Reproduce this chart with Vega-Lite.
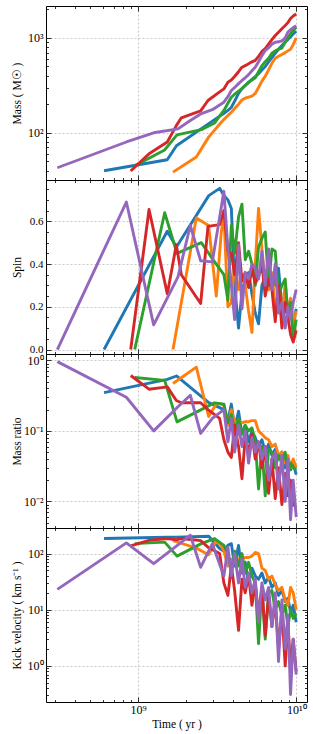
{
  "$schema": "https://vega.github.io/schema/vega-lite/v6.json",
  "padding": {"left": 10, "top": 5, "right": 7, "bottom": 2},
  "config": {
    "font": "Liberation Serif",
    "view": {"stroke": "#000", "strokeWidth": 1},
    "axis": {"domain": false, "labelFont": "Liberation Serif", "titleFont": "Liberation Serif", "labelFontSize": 12, "titleFontSize": 11.5, "titleFontWeight": "normal", "tickColor": "#000", "labelColor": "#000", "titleColor": "#000", "gridColor": "#b0b0b0", "gridDash": [2, 2], "gridWidth": 0.7, "tickWidth": 0.8}
  },
  "data": {"values": [
    {"series":"run1","time":6.1e8,"mass":39.8,"spin":0,"ratio":0.349,"kick":185},
    {"series":"run1","time":1.53e9,"mass":52,"spin":0.553,"ratio":0.538,"kick":195},
    {"series":"run1","time":1.75e9,"mass":73,"spin":0.48,"ratio":0.6,"kick":195},
    {"series":"run1","time":2.8e9,"mass":125,"spin":0.72,"ratio":0.252,"kick":203},
    {"series":"run1","time":3.28e9,"mass":150,"spin":0.754,"ratio":0.214,"kick":123},
    {"series":"run1","time":3.49e9,"mass":160,"spin":0.72,"ratio":0.2,"kick":110},
    {"series":"run1","time":3.7e9,"mass":172,"spin":0.7,"ratio":0.14,"kick":140},
    {"series":"run1","time":3.89e9,"mass":186,"spin":0.66,"ratio":0.24,"kick":150},
    {"series":"run1","time":4.08e9,"mass":215,"spin":0.3,"ratio":0.11,"kick":60},
    {"series":"run1","time":4.32e9,"mass":260,"spin":0.1,"ratio":0.19,"kick":140},
    {"series":"run1","time":4.54e9,"mass":292,"spin":0.27,"ratio":0.09,"kick":45},
    {"series":"run1","time":4.76e9,"mass":315,"spin":0.33,"ratio":0.12,"kick":70},
    {"series":"run1","time":5.0e9,"mass":340,"spin":0.36,"ratio":0.07,"kick":30},
    {"series":"run1","time":5.25e9,"mass":365,"spin":0.26,"ratio":0.1,"kick":55},
    {"series":"run1","time":5.51e9,"mass":390,"spin":0.17,"ratio":0.08,"kick":40},
    {"series":"run1","time":5.78e9,"mass":420,"spin":0.12,"ratio":0.06,"kick":35},
    {"series":"run1","time":6.07e9,"mass":460,"spin":0.3,"ratio":0.075,"kick":45},
    {"series":"run1","time":6.37e9,"mass":500,"spin":0.34,"ratio":0.05,"kick":30},
    {"series":"run1","time":6.69e9,"mass":560,"spin":0.28,"ratio":0.065,"kick":38},
    {"series":"run1","time":7.02e9,"mass":620,"spin":0.35,"ratio":0.045,"kick":25},
    {"series":"run1","time":7.37e9,"mass":690,"spin":0.3,"ratio":0.055,"kick":30},
    {"series":"run1","time":7.73e9,"mass":760,"spin":0.38,"ratio":0.04,"kick":18},
    {"series":"run1","time":8.12e9,"mass":830,"spin":0.2,"ratio":0.05,"kick":22},
    {"series":"run1","time":8.52e9,"mass":905,"spin":0.26,"ratio":0.03,"kick":14},
    {"series":"run1","time":8.86e9,"mass":960,"spin":0.15,"ratio":0.04,"kick":16},
    {"series":"run1","time":9.21e9,"mass":1030,"spin":0.22,"ratio":0.028,"kick":9},
    {"series":"run1","time":9.57e9,"mass":1100,"spin":0.12,"ratio":0.035,"kick":12},
    {"series":"run1","time":1.0e10,"mass":1175,"spin":0.19,"ratio":0.024,"kick":6},

    {"series":"run2","time":1.664e9,"mass":38.5,"spin":0,"ratio":0.47,"kick":170},
    {"series":"run2","time":2.336e9,"mass":55.5,"spin":0.615,"ratio":0.8,"kick":125},
    {"series":"run2","time":2.795e9,"mass":90,"spin":0.58,"ratio":0.16,"kick":95},
    {"series":"run2","time":3.124e9,"mass":112,"spin":0.25,"ratio":0.24,"kick":170},
    {"series":"run2","time":3.36e9,"mass":129,"spin":0.55,"ratio":0.24,"kick":140},
    {"series":"run2","time":3.49e9,"mass":138,"spin":0.63,"ratio":0.23,"kick":110},
    {"series":"run2","time":3.7e9,"mass":152,"spin":0.2,"ratio":0.12,"kick":60},
    {"series":"run2","time":3.89e9,"mass":165,"spin":0.22,"ratio":0.2,"kick":80},
    {"series":"run2","time":4.08e9,"mass":180,"spin":0.4,"ratio":0.13,"kick":75},
    {"series":"run2","time":4.32e9,"mass":200,"spin":0.28,"ratio":0.14,"kick":80},
    {"series":"run2","time":4.54e9,"mass":222,"spin":0.35,"ratio":0.13,"kick":80},
    {"series":"run2","time":4.76e9,"mass":232,"spin":0.3,"ratio":0.135,"kick":85},
    {"series":"run2","time":5.0e9,"mass":238,"spin":0.18,"ratio":0.135,"kick":85},
    {"series":"run2","time":5.25e9,"mass":244,"spin":0.08,"ratio":0.14,"kick":90},
    {"series":"run2","time":5.51e9,"mass":260,"spin":0.4,"ratio":0.14,"kick":105},
    {"series":"run2","time":5.78e9,"mass":300,"spin":0.66,"ratio":0.1,"kick":100},
    {"series":"run2","time":6.07e9,"mass":350,"spin":0.47,"ratio":0.09,"kick":55},
    {"series":"run2","time":6.37e9,"mass":395,"spin":0.3,"ratio":0.08,"kick":50},
    {"series":"run2","time":6.69e9,"mass":460,"spin":0.28,"ratio":0.075,"kick":35},
    {"series":"run2","time":7.02e9,"mass":540,"spin":0.36,"ratio":0.06,"kick":40},
    {"series":"run2","time":7.37e9,"mass":610,"spin":0.2,"ratio":0.065,"kick":28},
    {"series":"run2","time":7.73e9,"mass":640,"spin":0.27,"ratio":0.045,"kick":22},
    {"series":"run2","time":8.12e9,"mass":670,"spin":0.15,"ratio":0.05,"kick":25},
    {"series":"run2","time":8.52e9,"mass":700,"spin":0.31,"ratio":0.035,"kick":15},
    {"series":"run2","time":8.86e9,"mass":730,"spin":0.17,"ratio":0.045,"kick":12},
    {"series":"run2","time":9.21e9,"mass":760,"spin":0.24,"ratio":0.03,"kick":25},
    {"series":"run2","time":9.57e9,"mass":850,"spin":0.12,"ratio":0.04,"kick":20},
    {"series":"run2","time":1.0e10,"mass":1000,"spin":0.18,"ratio":0.03,"kick":10},

    {"series":"run3","time":9.53e8,"mass":45,"spin":0,"ratio":0.57,"kick":150},
    {"series":"run3","time":1.474e9,"mass":66,"spin":0.64,"ratio":0.52,"kick":160},
    {"series":"run3","time":1.764e9,"mass":95,"spin":0.45,"ratio":0.134,"kick":90},
    {"series":"run3","time":2.512e9,"mass":108,"spin":0.5,"ratio":0.2,"kick":150},
    {"series":"run3","time":3.05e9,"mass":127,"spin":0.41,"ratio":0.25,"kick":185},
    {"series":"run3","time":3.49e9,"mass":172,"spin":0.35,"ratio":0.24,"kick":140},
    {"series":"run3","time":3.7e9,"mass":205,"spin":0.23,"ratio":0.13,"kick":100},
    {"series":"run3","time":3.89e9,"mass":237,"spin":0.58,"ratio":0.17,"kick":50},
    {"series":"run3","time":4.08e9,"mass":255,"spin":0.45,"ratio":0.1,"kick":110},
    {"series":"run3","time":4.32e9,"mass":275,"spin":0.62,"ratio":0.15,"kick":60},
    {"series":"run3","time":4.54e9,"mass":292,"spin":0.68,"ratio":0.09,"kick":100},
    {"series":"run3","time":4.76e9,"mass":315,"spin":0.42,"ratio":0.12,"kick":45},
    {"series":"run3","time":5.0e9,"mass":340,"spin":0.46,"ratio":0.1,"kick":70},
    {"series":"run3","time":5.25e9,"mass":360,"spin":0.4,"ratio":0.11,"kick":40},
    {"series":"run3","time":5.51e9,"mass":380,"spin":0.3,"ratio":0.07,"kick":30},
    {"series":"run3","time":5.78e9,"mass":440,"spin":0.48,"ratio":0.015,"kick":2.5},
    {"series":"run3","time":6.07e9,"mass":510,"spin":0.52,"ratio":0.06,"kick":25},
    {"series":"run3","time":6.37e9,"mass":560,"spin":0.55,"ratio":0.012,"kick":3.0},
    {"series":"run3","time":6.69e9,"mass":610,"spin":0.3,"ratio":0.055,"kick":20},
    {"series":"run3","time":7.02e9,"mass":690,"spin":0.47,"ratio":0.05,"kick":22},
    {"series":"run3","time":7.37e9,"mass":730,"spin":0.46,"ratio":0.03,"kick":10},
    {"series":"run3","time":7.73e9,"mass":760,"spin":0.25,"ratio":0.045,"kick":14},
    {"series":"run3","time":8.12e9,"mass":780,"spin":0.3,"ratio":0.035,"kick":8},
    {"series":"run3","time":8.52e9,"mass":900,"spin":0.33,"ratio":0.05,"kick":12},
    {"series":"run3","time":8.86e9,"mass":1010,"spin":0.16,"ratio":0.025,"kick":5},
    {"series":"run3","time":9.21e9,"mass":1100,"spin":0.22,"ratio":0.035,"kick":10},
    {"series":"run3","time":9.57e9,"mass":1200,"spin":0.05,"ratio":0.03,"kick":7},
    {"series":"run3","time":1.0e10,"mass":1294,"spin":0.14,"ratio":0.028,"kick":8.6},

    {"series":"run4","time":8.99e8,"mass":39.5,"spin":0,"ratio":0.61,"kick":137},
    {"series":"run4","time":1.174e9,"mass":60,"spin":0.655,"ratio":0.39,"kick":172},
    {"series":"run4","time":1.532e9,"mass":80,"spin":0.26,"ratio":0.42,"kick":185},
    {"series":"run4","time":1.746e9,"mass":119,"spin":0.49,"ratio":0.27,"kick":175},
    {"series":"run4","time":1.878e9,"mass":144,"spin":0.35,"ratio":0.25,"kick":185},
    {"series":"run4","time":2.488e9,"mass":170,"spin":0.215,"ratio":0.25,"kick":170},
    {"series":"run4","time":2.768e9,"mass":219,"spin":0.576,"ratio":0.2,"kick":130},
    {"series":"run4","time":3.28e9,"mass":270,"spin":0.584,"ratio":0.15,"kick":100},
    {"series":"run4","time":3.49e9,"mass":290,"spin":0.65,"ratio":0.075,"kick":30},
    {"series":"run4","time":3.7e9,"mass":341,"spin":0.46,"ratio":0.05,"kick":18},
    {"series":"run4","time":3.89e9,"mass":360,"spin":0.45,"ratio":0.042,"kick":60},
    {"series":"run4","time":4.08e9,"mass":392,"spin":0.35,"ratio":0.12,"kick":22},
    {"series":"run4","time":4.32e9,"mass":440,"spin":0.5,"ratio":0.06,"kick":4.3},
    {"series":"run4","time":4.54e9,"mass":491,"spin":0.32,"ratio":0.021,"kick":35},
    {"series":"run4","time":4.76e9,"mass":510,"spin":0.36,"ratio":0.08,"kick":20},
    {"series":"run4","time":5.0e9,"mass":535,"spin":0.29,"ratio":0.05,"kick":40},
    {"series":"run4","time":5.25e9,"mass":560,"spin":0.38,"ratio":0.09,"kick":12},
    {"series":"run4","time":5.51e9,"mass":580,"spin":0.31,"ratio":0.04,"kick":30},
    {"series":"run4","time":5.78e9,"mass":640,"spin":0.34,"ratio":0.07,"kick":8},
    {"series":"run4","time":6.07e9,"mass":720,"spin":0.4,"ratio":0.03,"kick":25},
    {"series":"run4","time":6.37e9,"mass":770,"spin":0.25,"ratio":0.06,"kick":3.5},
    {"series":"run4","time":6.69e9,"mass":860,"spin":0.33,"ratio":0.013,"kick":18},
    {"series":"run4","time":7.02e9,"mass":960,"spin":0.28,"ratio":0.04,"kick":5},
    {"series":"run4","time":7.37e9,"mass":1060,"spin":0.13,"ratio":0.011,"kick":14},
    {"series":"run4","time":7.73e9,"mass":1150,"spin":0.3,"ratio":0.03,"kick":2},
    {"series":"run4","time":8.12e9,"mass":1250,"spin":0.1,"ratio":0.009,"kick":10},
    {"series":"run4","time":8.52e9,"mass":1350,"spin":0.22,"ratio":0.025,"kick":1.0},
    {"series":"run4","time":8.86e9,"mass":1450,"spin":0.15,"ratio":0.012,"kick":6},
    {"series":"run4","time":9.21e9,"mass":1600,"spin":0.07,"ratio":0.02,"kick":0.9},
    {"series":"run4","time":9.57e9,"mass":1700,"spin":0.035,"ratio":0.009,"kick":3},
    {"series":"run4","time":1.0e10,"mass":1790,"spin":0.09,"ratio":0.0083,"kick":0.8},

    {"series":"run5","time":3.09e8,"mass":42.8,"spin":0,"ratio":0.96,"kick":23},
    {"series":"run5","time":8.44e8,"mass":80,"spin":0.69,"ratio":0.3,"kick":155},
    {"series":"run5","time":1.256e9,"mass":100,"spin":0.115,"ratio":0.1,"kick":66},
    {"series":"run5","time":1.789e9,"mass":110,"spin":0.34,"ratio":0.22,"kick":143},
    {"series":"run5","time":2.141e9,"mass":135,"spin":0.58,"ratio":0.32,"kick":212},
    {"series":"run5","time":2.488e9,"mass":158,"spin":0.415,"ratio":0.092,"kick":57},
    {"series":"run5","time":2.949e9,"mass":175,"spin":0.41,"ratio":0.15,"kick":150},
    {"series":"run5","time":3.49e9,"mass":210,"spin":0.74,"ratio":0.2,"kick":40},
    {"series":"run5","time":3.7e9,"mass":240,"spin":0.47,"ratio":0.07,"kick":130},
    {"series":"run5","time":3.89e9,"mass":279,"spin":0.3,"ratio":0.15,"kick":40},
    {"series":"run5","time":4.08e9,"mass":300,"spin":0.14,"ratio":0.05,"kick":100},
    {"series":"run5","time":4.32e9,"mass":330,"spin":0.49,"ratio":0.12,"kick":30},
    {"series":"run5","time":4.54e9,"mass":356,"spin":0.19,"ratio":0.06,"kick":80},
    {"series":"run5","time":4.76e9,"mass":380,"spin":0.36,"ratio":0.1,"kick":25},
    {"series":"run5","time":5.0e9,"mass":410,"spin":0.33,"ratio":0.035,"kick":45},
    {"series":"run5","time":5.25e9,"mass":450,"spin":0.4,"ratio":0.08,"kick":20},
    {"series":"run5","time":5.51e9,"mass":491,"spin":0.38,"ratio":0.05,"kick":35},
    {"series":"run5","time":5.78e9,"mass":560,"spin":0.33,"ratio":0.07,"kick":6},
    {"series":"run5","time":6.07e9,"mass":650,"spin":0.46,"ratio":0.04,"kick":30},
    {"series":"run5","time":6.37e9,"mass":736,"spin":0.3,"ratio":0.06,"kick":15},
    {"series":"run5","time":6.69e9,"mass":790,"spin":0.47,"ratio":0.02,"kick":25},
    {"series":"run5","time":7.02e9,"mass":860,"spin":0.28,"ratio":0.04,"kick":5},
    {"series":"run5","time":7.37e9,"mass":900,"spin":0.4,"ratio":0.05,"kick":20},
    {"series":"run5","time":7.73e9,"mass":910,"spin":0.17,"ratio":0.015,"kick":1.2},
    {"series":"run5","time":8.12e9,"mass":930,"spin":0.22,"ratio":0.045,"kick":15},
    {"series":"run5","time":8.52e9,"mass":1000,"spin":0.1,"ratio":0.01,"kick":2},
    {"series":"run5","time":8.86e9,"mass":1150,"spin":0.2,"ratio":0.04,"kick":8},
    {"series":"run5","time":9.21e9,"mass":1220,"spin":0.14,"ratio":0.0055,"kick":0.31},
    {"series":"run5","time":9.57e9,"mass":1280,"spin":0.22,"ratio":0.02,"kick":3},
    {"series":"run5","time":1.0e10,"mass":1350,"spin":0.28,"ratio":0.006,"kick":0.7}
  ]},
  "vconcat": [
    {
      "width": 261, "height": 174,
      "layer": [
        {"mark": {"type": "line", "strokeWidth": 2.9, "clip": true, "strokeJoin": "round"},
         "encoding": {
           "x": {"field": "time", "type": "quantitative", "scale": {"type": "log", "domain": [2.62e8, 1.17e10], "nice": false},
                 "axis": {"orient": "bottom", "labels": false, "title": null, "values": [3e8,4e8,5e8,6e8,7e8,8e8,9e8,1e9,2e9,3e9,4e9,5e9,6e9,7e9,8e9,9e9,1e10], "grid": true, "gridOpacity": {"condition": {"test": "abs(log(datum.value)/LN10 - round(log(datum.value)/LN10)) < 0.001", "value": 1}, "value": 0}, "tickSize": {"condition": {"test": "abs(log(datum.value)/LN10 - round(log(datum.value)/LN10)) < 0.001", "value": -5}, "value": -2.5}, "minExtent": 0, "maxExtent": 0}},
           "y": {"field": "mass", "type": "quantitative", "scale": {"type": "log", "domain": [31.8, 2170], "nice": false},
                 "axis": {"orient": "left", "title": "Mass ( M☉ )", "values": [40,50,60,70,80,90,100,200,300,400,500,600,700,800,900,1000,2000], "labelExpr": "datum.value == 100 ? '10²' : datum.value == 1000 ? '10³' : ''", "grid": true, "gridOpacity": {"condition": {"test": "abs(log(datum.value)/LN10 - round(log(datum.value)/LN10)) < 0.001", "value": 1}, "value": 0}, "tickSize": {"condition": {"test": "abs(log(datum.value)/LN10 - round(log(datum.value)/LN10)) < 0.001", "value": -5}, "value": -2.5}, "labelPadding": 8, "minExtent": 22, "maxExtent": 22, "titlePadding": 2}},
           "color": {"field": "series", "type": "nominal", "scale": {"domain": ["run1","run2","run3","run4","run5"], "range": ["#1f77b4","#ff7f0e","#2ca02c","#d62728","#9467bd"]}, "legend": null}
         }},
        {"mark": {"type": "point", "opacity": 0},
         "encoding": {
           "x": {"field": "time", "type": "quantitative", "scale": {"type": "log", "domain": [2.62e8, 1.17e10], "nice": false},
                 "axis": {"orient": "top", "labels": false, "title": null, "grid": false, "values": [3e8,4e8,5e8,6e8,7e8,8e8,9e8,1e9,2e9,3e9,4e9,5e9,6e9,7e9,8e9,9e9,1e10], "tickSize": {"condition": {"test": "abs(log(datum.value)/LN10 - round(log(datum.value)/LN10)) < 0.001", "value": -5}, "value": -2.5}, "minExtent": 0, "maxExtent": 0}},
           "y": {"field": "mass", "type": "quantitative", "scale": {"type": "log", "domain": [31.8, 2170], "nice": false},
                 "axis": {"orient": "right", "labels": false, "title": null, "grid": false, "values": [40,50,60,70,80,90,100,200,300,400,500,600,700,800,900,1000,2000], "tickSize": {"condition": {"test": "abs(log(datum.value)/LN10 - round(log(datum.value)/LN10)) < 0.001", "value": -5}, "value": -2.5}, "minExtent": 0, "maxExtent": 0}}
         }}
      ],
      "resolve": {"axis": {"x": "independent", "y": "independent"}}
    },
    {
      "width": 261, "height": 174,
      "layer": [
        {"mark": {"type": "line", "strokeWidth": 2.9, "clip": true, "strokeJoin": "round"},
         "encoding": {
           "x": {"field": "time", "type": "quantitative", "scale": {"type": "log", "domain": [2.62e8, 1.17e10], "nice": false},
                 "axis": {"orient": "bottom", "labels": false, "title": null, "values": [3e8,4e8,5e8,6e8,7e8,8e8,9e8,1e9,2e9,3e9,4e9,5e9,6e9,7e9,8e9,9e9,1e10], "grid": true, "gridOpacity": {"condition": {"test": "abs(log(datum.value)/LN10 - round(log(datum.value)/LN10)) < 0.001", "value": 1}, "value": 0}, "tickSize": {"condition": {"test": "abs(log(datum.value)/LN10 - round(log(datum.value)/LN10)) < 0.001", "value": -5}, "value": -2.5}, "minExtent": 0, "maxExtent": 0}},
           "y": {"field": "spin", "type": "quantitative", "scale": {"domain": [-0.021, 0.793], "nice": false, "zero": false},
                 "axis": {"orient": "left", "title": "Spin", "values": [0,0.05,0.1,0.15,0.2,0.25,0.3,0.35,0.4,0.45,0.5,0.55,0.6,0.65,0.7,0.75], "labelExpr": "abs(datum.value*5 - round(datum.value*5)) < 0.0001 ? format(datum.value, '.1f') : ''", "grid": true, "gridOpacity": {"condition": {"test": "abs(datum.value*5 - round(datum.value*5)) < 0.0001", "value": 1}, "value": 0}, "tickSize": {"condition": {"test": "abs(datum.value*5 - round(datum.value*5)) < 0.0001", "value": -5}, "value": -2.5}, "labelPadding": 8, "labelFontSize": 11, "minExtent": 22, "maxExtent": 22, "titlePadding": 2}},
           "color": {"field": "series", "type": "nominal", "scale": {"domain": ["run1","run2","run3","run4","run5"], "range": ["#1f77b4","#ff7f0e","#2ca02c","#d62728","#9467bd"]}, "legend": null}
         }},
        {"mark": {"type": "point", "opacity": 0},
         "encoding": {
           "x": {"field": "time", "type": "quantitative", "scale": {"type": "log", "domain": [2.62e8, 1.17e10], "nice": false},
                 "axis": {"orient": "top", "labels": false, "title": null, "grid": false, "values": [3e8,4e8,5e8,6e8,7e8,8e8,9e8,1e9,2e9,3e9,4e9,5e9,6e9,7e9,8e9,9e9,1e10], "tickSize": {"condition": {"test": "abs(log(datum.value)/LN10 - round(log(datum.value)/LN10)) < 0.001", "value": -5}, "value": -2.5}, "minExtent": 0, "maxExtent": 0}},
           "y": {"field": "spin", "type": "quantitative", "scale": {"domain": [-0.021, 0.793], "nice": false, "zero": false},
                 "axis": {"orient": "right", "labels": false, "title": null, "grid": false, "values": [0,0.05,0.1,0.15,0.2,0.25,0.3,0.35,0.4,0.45,0.5,0.55,0.6,0.65,0.7,0.75], "tickSize": {"condition": {"test": "abs(datum.value*5 - round(datum.value*5)) < 0.0001", "value": -5}, "value": -2.5}, "minExtent": 0, "maxExtent": 0}}
         }}
      ],
      "resolve": {"axis": {"x": "independent", "y": "independent"}}
    },
    {
      "width": 261, "height": 174,
      "layer": [
        {"mark": {"type": "line", "strokeWidth": 2.9, "clip": true, "strokeJoin": "round"},
         "encoding": {
           "x": {"field": "time", "type": "quantitative", "scale": {"type": "log", "domain": [2.62e8, 1.17e10], "nice": false},
                 "axis": {"orient": "bottom", "labels": false, "title": null, "values": [3e8,4e8,5e8,6e8,7e8,8e8,9e8,1e9,2e9,3e9,4e9,5e9,6e9,7e9,8e9,9e9,1e10], "grid": true, "gridOpacity": {"condition": {"test": "abs(log(datum.value)/LN10 - round(log(datum.value)/LN10)) < 0.001", "value": 1}, "value": 0}, "tickSize": {"condition": {"test": "abs(log(datum.value)/LN10 - round(log(datum.value)/LN10)) < 0.001", "value": -5}, "value": -2.5}, "minExtent": 0, "maxExtent": 0}},
           "y": {"field": "ratio", "type": "quantitative", "scale": {"type": "log", "domain": [0.0042, 1.23], "nice": false},
                 "axis": {"orient": "left", "title": "Mass ratio", "values": [0.005,0.006,0.007,0.008,0.009,0.01,0.02,0.03,0.04,0.05,0.06,0.07,0.08,0.09,0.1,0.2,0.3,0.4,0.5,0.6,0.7,0.8,0.9,1], "labelExpr": "datum.value == 1 ? '10⁰' : datum.value == 0.1 ? '10⁻¹' : datum.value == 0.01 ? '10⁻²' : ''", "grid": true, "gridOpacity": {"condition": {"test": "abs(log(datum.value)/LN10 - round(log(datum.value)/LN10)) < 0.001", "value": 1}, "value": 0}, "tickSize": {"condition": {"test": "abs(log(datum.value)/LN10 - round(log(datum.value)/LN10)) < 0.001", "value": -5}, "value": -2.5}, "labelPadding": 8, "minExtent": 22, "maxExtent": 22, "titlePadding": 2}},
           "color": {"field": "series", "type": "nominal", "scale": {"domain": ["run1","run2","run3","run4","run5"], "range": ["#1f77b4","#ff7f0e","#2ca02c","#d62728","#9467bd"]}, "legend": null}
         }},
        {"mark": {"type": "point", "opacity": 0},
         "encoding": {
           "x": {"field": "time", "type": "quantitative", "scale": {"type": "log", "domain": [2.62e8, 1.17e10], "nice": false},
                 "axis": {"orient": "top", "labels": false, "title": null, "grid": false, "values": [3e8,4e8,5e8,6e8,7e8,8e8,9e8,1e9,2e9,3e9,4e9,5e9,6e9,7e9,8e9,9e9,1e10], "tickSize": {"condition": {"test": "abs(log(datum.value)/LN10 - round(log(datum.value)/LN10)) < 0.001", "value": -5}, "value": -2.5}, "minExtent": 0, "maxExtent": 0}},
           "y": {"field": "ratio", "type": "quantitative", "scale": {"type": "log", "domain": [0.0042, 1.23], "nice": false},
                 "axis": {"orient": "right", "labels": false, "title": null, "grid": false, "values": [0.005,0.006,0.007,0.008,0.009,0.01,0.02,0.03,0.04,0.05,0.06,0.07,0.08,0.09,0.1,0.2,0.3,0.4,0.5,0.6,0.7,0.8,0.9,1], "tickSize": {"condition": {"test": "abs(log(datum.value)/LN10 - round(log(datum.value)/LN10)) < 0.001", "value": -5}, "value": -2.5}, "minExtent": 0, "maxExtent": 0}}
         }}
      ],
      "resolve": {"axis": {"x": "independent", "y": "independent"}}
    },
    {
      "width": 261, "height": 174,
      "layer": [
        {"mark": {"type": "line", "strokeWidth": 2.9, "clip": true, "strokeJoin": "round"},
         "encoding": {
           "x": {"field": "time", "type": "quantitative", "scale": {"type": "log", "domain": [2.62e8, 1.17e10], "nice": false},
                 "axis": {"orient": "bottom", "title": "Time ( yr )", "values": [3e8,4e8,5e8,6e8,7e8,8e8,9e8,1e9,2e9,3e9,4e9,5e9,6e9,7e9,8e9,9e9,1e10], "labelExpr": "datum.value == 1000000000 ? '10⁹' : datum.value == 10000000000 ? '10¹⁰' : ''", "grid": true, "gridOpacity": {"condition": {"test": "abs(log(datum.value)/LN10 - round(log(datum.value)/LN10)) < 0.001", "value": 1}, "value": 0}, "tickSize": {"condition": {"test": "abs(log(datum.value)/LN10 - round(log(datum.value)/LN10)) < 0.001", "value": -5}, "value": -2.5}, "labelPadding": 7, "titlePadding": 3, "labelFlush": false}},
           "y": {"field": "kick", "type": "quantitative", "scale": {"type": "log", "domain": [0.228, 285], "nice": false},
                 "axis": {"orient": "left", "title": "Kick velocity ( km s⁻¹ )", "values": [0.3,0.4,0.5,0.6,0.7,0.8,0.9,1,2,3,4,5,6,7,8,9,10,20,30,40,50,60,70,80,90,100,200], "labelExpr": "datum.value == 100 ? '10²' : datum.value == 10 ? '10¹' : datum.value == 1 ? '10⁰' : ''", "grid": true, "gridOpacity": {"condition": {"test": "abs(log(datum.value)/LN10 - round(log(datum.value)/LN10)) < 0.001", "value": 1}, "value": 0}, "tickSize": {"condition": {"test": "abs(log(datum.value)/LN10 - round(log(datum.value)/LN10)) < 0.001", "value": -5}, "value": -2.5}, "labelPadding": 8, "minExtent": 22, "maxExtent": 22, "titlePadding": 2}},
           "color": {"field": "series", "type": "nominal", "scale": {"domain": ["run1","run2","run3","run4","run5"], "range": ["#1f77b4","#ff7f0e","#2ca02c","#d62728","#9467bd"]}, "legend": null}
         }},
        {"mark": {"type": "point", "opacity": 0},
         "encoding": {
           "x": {"field": "time", "type": "quantitative", "scale": {"type": "log", "domain": [2.62e8, 1.17e10], "nice": false},
                 "axis": {"orient": "top", "labels": false, "title": null, "grid": false, "values": [3e8,4e8,5e8,6e8,7e8,8e8,9e8,1e9,2e9,3e9,4e9,5e9,6e9,7e9,8e9,9e9,1e10], "tickSize": {"condition": {"test": "abs(log(datum.value)/LN10 - round(log(datum.value)/LN10)) < 0.001", "value": -5}, "value": -2.5}, "minExtent": 0, "maxExtent": 0}},
           "y": {"field": "kick", "type": "quantitative", "scale": {"type": "log", "domain": [0.228, 285], "nice": false},
                 "axis": {"orient": "right", "labels": false, "title": null, "grid": false, "values": [0.3,0.4,0.5,0.6,0.7,0.8,0.9,1,2,3,4,5,6,7,8,9,10,20,30,40,50,60,70,80,90,100,200], "tickSize": {"condition": {"test": "abs(log(datum.value)/LN10 - round(log(datum.value)/LN10)) < 0.001", "value": -5}, "value": -2.5}, "minExtent": 0, "maxExtent": 0}}
         }}
      ],
      "resolve": {"axis": {"x": "independent", "y": "independent"}}
    }
  ],
  "spacing": 0,
  "bounds": "flush"
}
